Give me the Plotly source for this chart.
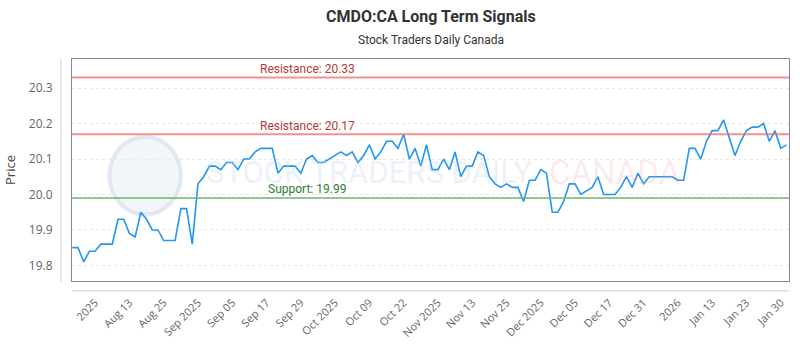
import plotly.graph_objects as go

# ---- data ----
prices = [
    19.85, 19.85, 19.81, 19.84, 19.84, 19.86, 19.86, 19.86, 19.93, 19.93,
    19.89, 19.88, 19.95, 19.93, 19.90, 19.90, 19.87, 19.87, 19.87, 19.96,
    19.96, 19.86, 20.03, 20.05, 20.08, 20.08, 20.07, 20.09, 20.09, 20.07,
    20.10, 20.10, 20.12, 20.13, 20.13, 20.13, 20.06, 20.08, 20.08, 20.08,
    20.06, 20.10, 20.11, 20.09, 20.09, 20.10, 20.11, 20.12, 20.11, 20.12,
    20.09, 20.11, 20.14, 20.10, 20.12, 20.15, 20.15, 20.13, 20.17, 20.10,
    20.13, 20.08, 20.14, 20.07, 20.07, 20.10, 20.07, 20.12, 20.05, 20.08,
    20.08, 20.12, 20.11, 20.05, 20.03, 20.02, 20.03, 20.02, 20.02, 19.98,
    20.04, 20.04, 20.07, 20.06, 19.95, 19.95, 19.98, 20.03, 20.03, 20.00,
    20.01, 20.02, 20.05, 20.00, 20.00, 20.00, 20.02, 20.05, 20.02, 20.06,
    20.03, 20.05, 20.05, 20.05, 20.05, 20.05, 20.04, 20.04, 20.13, 20.13,
    20.10, 20.15, 20.18, 20.18, 20.21, 20.16, 20.11, 20.15, 20.18, 20.19,
    20.19, 20.20, 20.15, 20.18, 20.13, 20.14,
]
x_index = list(range(len(prices)))

tick_positions = [4, 10, 16, 22, 28, 34, 40, 46, 52, 58, 64, 70, 76, 82, 88, 94, 100, 106, 112, 118, 124]
tick_labels = ["2025", "Aug 13", "Aug 25", "Sep 2025", "Sep 05", "Sep 17", "Sep 29",
               "Oct 2025", "Oct 09", "Oct 22", "Nov 2025", "Nov 13", "Nov 25",
               "Dec 2025", "Dec 05", "Dec 17", "Dec 31", "2026", "Jan 13", "Jan 23", "Jan 30"]

resistance_levels = [20.33, 20.17]
support_levels = [19.99]

y_ticks = [19.8, 19.9, 20.0, 20.1, 20.2, 20.3]

title_text = "CMDO:CA Long Term Signals"
subtitle_text = "Stock Traders Daily Canada"

# ---- figure ----
fig = go.Figure()

fig.add_trace(go.Scatter(
    x=x_index, y=prices, mode="lines",
    line=dict(color="#2196f3", width=1.6),
    hoverinfo="y", showlegend=False,
))

shapes = []
annotations = []

# watermark logo circle
shapes.append(dict(type="circle", xref="paper", yref="paper", layer="below",
                   x0=0.052, x1=0.152, y0=0.30, y1=0.65,
                   fillcolor="rgba(226,233,245,0.45)",
                   line=dict(color="rgba(205,216,234,0.55)", width=4)))

for lvl in resistance_levels:
    shapes.append(dict(type="line", xref="paper", yref="y", x0=0, x1=1, y0=lvl, y1=lvl,
                       line=dict(color="rgba(235,110,105,0.75)", width=2)))
    annotations.append(dict(xref="paper", yref="y", x=0.328, xanchor="center", y=lvl, yshift=8,
                            text=f"Resistance: {lvl:.2f}", showarrow=False,
                            font=dict(family="Roboto", size=12, color="#b83a34")))
for lvl in support_levels:
    shapes.append(dict(type="line", xref="paper", yref="y", x0=0, x1=1, y0=lvl, y1=lvl,
                       line=dict(color="rgba(110,180,110,0.75)", width=2)))
    annotations.append(dict(xref="paper", yref="y", x=0.328, xanchor="center", y=lvl, yshift=9,
                            text=f"Support: {lvl:.2f}", showarrow=False,
                            font=dict(family="Roboto", size=12, color="#2e7d32")))

# offset axis lines
shapes.append(dict(type="line", xref="paper", yref="paper", x0=-0.0153, x1=-0.0153,
                   y0=-0.004, y1=1.0, line=dict(color="#cccccc", width=1)))
shapes.append(dict(type="line", xref="paper", yref="paper", x0=0, x1=1,
                   y0=-0.044, y1=-0.044, line=dict(color="#cccccc", width=1)))

# watermark text
annotations.append(dict(xref="paper", yref="paper", x=0.186, y=0.49, xanchor="left",
                        text="STOCK TRADERS DAILY", showarrow=False, borderpad=0,
                        font=dict(family="Roboto", size=31,
                                  color="rgba(190,205,228,0.28)")))
annotations.append(dict(xref="paper", yref="paper", x=0.664, y=0.49, xanchor="left",
                        text="CANADA", showarrow=False, borderpad=0,
                        font=dict(family="Roboto", size=33,
                                  color="rgba(245,160,160,0.22)")))

# title and subtitle
annotations.append(dict(xref="paper", yref="paper", x=0.5, xanchor="center",
                        y=1, yshift=43, yanchor="middle",
                        text=f"<b>{title_text}</b>", showarrow=False,
                        font=dict(family="Roboto", size=16, color="#333333")))
annotations.append(dict(xref="paper", yref="paper", x=0.5, xanchor="center",
                        y=1, yshift=19, yanchor="middle",
                        text=subtitle_text, showarrow=False,
                        font=dict(family="Roboto", size=12, color="#333333")))

fig.update_layout(
    width=800, height=350,
    margin=dict(l=71, r=10, t=59, b=64),
    paper_bgcolor="white", plot_bgcolor="white",
    font=dict(family="Open Sans", color="#666666"),
    shapes=shapes, annotations=annotations,
    showlegend=False,
)

fig.update_xaxes(
    range=[-0.05, 125.45],
    tickmode="array", tickvals=tick_positions, ticktext=tick_labels,
    tickangle=-45, tickfont=dict(size=11, color="#666666"),
    showgrid=False, zeroline=False,
    showline=True, linecolor="#888888", linewidth=1, mirror=True,
    ticks="", ticklabelstandoff=10,
)
fig.update_yaxes(
    range=[19.756, 20.382],
    tickmode="array", tickvals=y_ticks, ticktext=[f"{v:.1f}" for v in y_ticks],
    tickfont=dict(size=12, color="#666666"),
    showgrid=True, gridcolor="#e8e8e8", griddash="dot", gridwidth=1,
    zeroline=False,
    showline=True, linecolor="#888888", linewidth=1, mirror=True,
    ticks="", ticklabelstandoff=16,
    title=dict(text="Price", font=dict(size=13, color="#444444"), standoff=10),
)

fig.write_html("out.html")
